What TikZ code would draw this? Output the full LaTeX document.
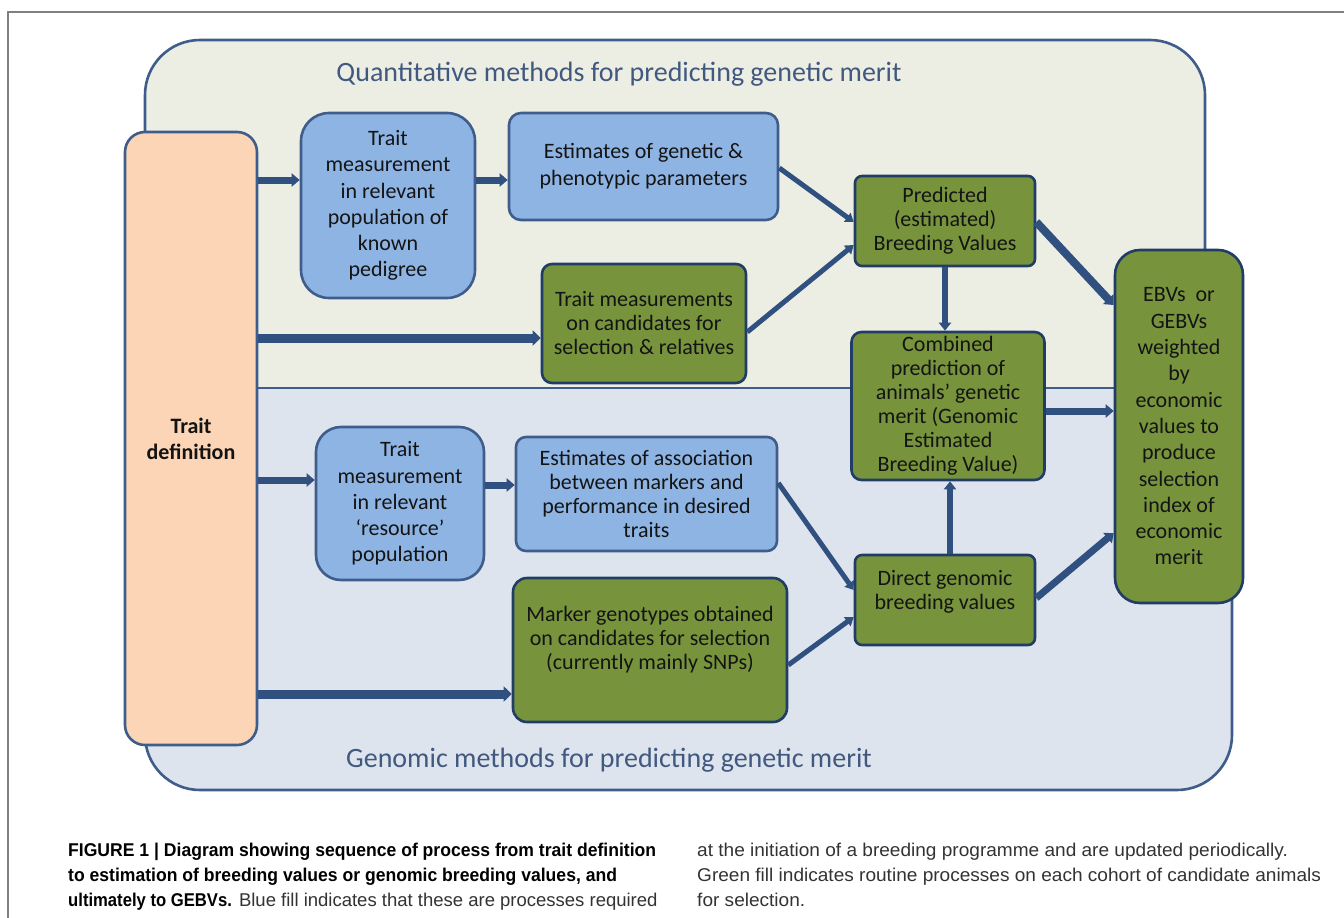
\documentclass[tikz,border=0pt]{standalone}
\usepackage{fontspec}
\setmainfont{Carlito}
\newfontfamily\capfont[FakeStretch=1.03]{Liberation Sans}
\newfontfamily\capnarrow[FakeStretch=1.0]{Liberation Sans}
\newfontfamily\capbold[FakeStretch=0.95]{Liberation Sans}
\newfontfamily\capboldn[FakeStretch=0.9]{Liberation Sans}
\usetikzlibrary{arrows.meta}
\definecolor{panelq}{HTML}{ECEEE4}
\definecolor{panelg}{HTML}{DEE4EE}
\definecolor{panelline}{HTML}{3F5D8A}
\definecolor{boxblue}{HTML}{8EB4E3}
\definecolor{boxgreen}{HTML}{77933C}
\definecolor{boxorange}{HTML}{FBD5B5}
\definecolor{navy}{HTML}{213D66}
\definecolor{arrowc}{HTML}{30507F}
\definecolor{headc}{HTML}{41597F}
\definecolor{framec}{HTML}{808080}
\newcommand\Boxfont[1]{\fontsize{22}{#1}\selectfont}
\newcommand\Capbf{\capbold\bfseries\color{black}}

\begin{document}
\begin{tikzpicture}[x=1pt, y=-1pt,
every node/.style={inner sep=0pt, align=center, text=black!92},
proc/.style={draw=navy, line width=2.6pt, rounded corners=#1, font=\Boxfont{24}},
proc/.default=10pt,
bluebox/.style={proc=#1, fill=boxblue, draw=panelline},
greenbox/.style={proc=#1, fill=boxgreen},
panel/.style={draw=panelline, line width=2.6pt, rounded corners=55pt},
flow/.style={draw=arrowc, line width=#1, -{Triangle[length=8pt, width=6pt 1]}},
head/.style={text=headc, font=\fontsize{28}{32}\selectfont},
capline/.style={anchor=base west, align=left, text=black!80, font=\capfont\fontsize{18.5}{25}\selectfont}
]
\useasboundingbox (0,0) rectangle (1344,918);
\fill[white] (0,0) rectangle (1344,918);
\draw[framec, line width=1.5pt] (8,918) -- (8,12) -- (1344,12);

% the two panels
\begin{scope}
\clip (0,0) rectangle (1344,388);
\filldraw[panel, fill=panelq] (145,40) rectangle (1205,560);
\end{scope}
\begin{scope}
\clip (0,388) rectangle (1344,918);
\filldraw[panel, fill=panelg] (145,230) rectangle (1232,790);
\end{scope}
\draw[panelline, line width=2.6pt] (145,388) -- (1232,388);

\node[head] (qtitle) at (619,74) {Quantitative methods for predicting genetic merit};
\node[head] (gtitle) at (609,760) {Genomic methods for predicting genetic merit};

% boxes
\node[proc=20pt, fill=boxorange, draw=panelline, minimum width=132pt, minimum height=613pt,
  font=\bfseries\Boxfont{26}] (def) at (191,438.5) {Trait\\ definition};
\node[bluebox=28pt, minimum width=174pt, minimum height=185pt, font=\Boxfont{26.3}]
  (meas) at (388,205.5) {Trait\\ measurement\\ in relevant\\ population of\\ known\\ pedigree};
\node[bluebox=12pt, minimum width=269pt, minimum height=107pt, font=\Boxfont{27}]
  (gpar) at (643.5,166.5) {Estimates of genetic \&\\ phenotypic parameters};
\node[greenbox=10pt, minimum width=204pt, minimum height=119pt]
  (cand) at (644,323.5) {Trait measurements\\ on candidates for\\ selection \& relatives};
\node[greenbox=7pt, minimum width=180pt, minimum height=90pt]
  (pbv) at (945,221) {Predicted\\ (estimated)\\ Breeding Values};
\node[greenbox=10pt, minimum width=193pt, minimum height=148pt]
  (comb) at (948,406) {Combined\\ prediction of\\ animals’ genetic\\ merit (Genomic\\ Estimated\\ Breeding Value)};
\node[greenbox=25pt, minimum width=128pt, minimum height=353pt, font=\Boxfont{26.3}]
  (ebv) at (1179,426.5) {EBVs\ \ or\\ GEBVs\\ weighted\\ by\\ economic\\ values to\\ produce\\ selection\\ index of\\ economic\\ merit};
\node[bluebox=25pt, minimum width=168pt, minimum height=153pt, font=\Boxfont{26.2}]
  (rmeas) at (400,503.5) {Trait\\ measurement\\ in relevant\\ ‘resource’\\ population};
\node[bluebox=10pt, minimum width=261pt, minimum height=114pt]
  (assoc) at (646.5,494) {Estimates of association\\ between markers and\\ performance in desired\\ traits};
\node[greenbox=14pt, minimum width=274pt, minimum height=144pt, text depth=23.5pt]
  (geno) at (650,650) {Marker genotypes obtained\\ on candidates for selection\\ (currently mainly SNPs)};
\node[greenbox=7pt, minimum width=180pt, minimum height=90pt, text depth=20.5pt]
  (dgbv) at (945,600) {Direct genomic\\ breeding values};

% connectors
\draw[flow=7pt] (def.east |- 0,180) -- (meas.west |- 0,180);
\draw[flow=7pt] (meas.east |- 0,180) -- (gpar.west |- 0,180);
\draw[flow=9pt] (def.east |- 0,338) -- (cand.west |- 0,338);
\draw[flow=5pt] (gpar.east |- 0,168) -- (pbv.west |- 0,222);
\draw[flow=5pt] (cand.east |- 0,332) -- (pbv.west |- 0,245);
\draw[flow=6pt] (pbv.south) -- (pbv.south |- comb.north);
\draw[flow=8pt] (pbv.east |- 0,222) -- (ebv.west |- 0,305);
\draw[flow=7pt] (comb.east |- 0,411) -- (ebv.west |- 0,411);
\draw[flow=7pt] (def.east |- 0,480) -- (rmeas.west |- 0,480);
\draw[flow=7pt] (rmeas.east |- 0,485) -- (assoc.west |- 0,485);
\draw[flow=9pt] (def.east |- 0,694) -- (geno.west |- 0,694);
\draw[flow=5pt] (assoc.east |- 0,483) -- (dgbv.west |- 0,590);
\draw[flow=5pt] (geno.east |- 0,665) -- (dgbv.west |- 0,617);
\draw[flow=6pt] ([xshift=5pt]dgbv.north) -- ([xshift=5pt]dgbv.north |- comb.south);
\draw[flow=7pt] (dgbv.east |- 0,598) -- (ebv.west |- 0,533);

% caption
\node[capline] (cap1) at (68,856) {\Capbf FIGURE 1 | Diagram showing sequence of process from trait definition};
\node[capline] (cap2) at (68,881) {\Capbf to estimation of breeding values or genomic breeding values, and};
\node[capline] (cap3) at (68,906) {{\capboldn\bfseries\color{black}ultimately to GEBVs.} \capnarrow Blue fill indicates that these are processes required};
\node[capline] (cap4) at (697,856) {at the initiation of a breeding programme and are updated periodically.};
\node[capline] (cap5) at (697,881) {Green fill indicates routine processes on each cohort of candidate animals};
\node[capline] (cap6) at (697,906) {for selection.};
\end{tikzpicture}
\end{document}
